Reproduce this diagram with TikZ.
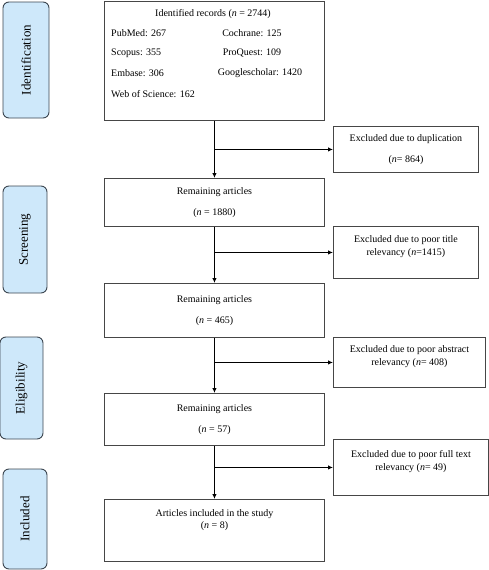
\documentclass[tikz,border=0pt]{standalone}
\usepackage{fontspec}
\setmainfont{Liberation Serif}
\usetikzlibrary{arrows.meta}
\definecolor{stageblue}{RGB}{206,232,250}
\definecolor{stageline}{RGB}{60,70,80}
\definecolor{boxline}{RGB}{70,70,70}

\begin{document}
\begin{tikzpicture}[x=1pt,y=-1pt,font=\fontsize{10}{13}\selectfont,
   stage/.style={draw=stageline,fill=stageblue,line width=0.9pt,rounded corners=6pt,
                 rotate=90,font=\fontsize{13}{15}\selectfont,inner sep=0pt},
   box/.style={draw=boxline,line width=0.9pt,anchor=north west,minimum width=220pt,
               align=center,inner sep=0pt},
   excl/.style={draw=boxline,line width=0.9pt,anchor=north west,align=center,inner sep=0pt},
   src/.style={inner sep=0pt},
   arr/.style={-{Latex[length=5pt,width=4.5pt]},line width=1.1pt}]
  \useasboundingbox (0,0) rectangle (489,570);
  % stages on the left
  \node[stage,minimum width=116pt,minimum height=46pt] (sid) at (26,60) {Identification};
  \node[stage,minimum width=107pt,minimum height=44pt] (sscr) at (25,239.5) {Screening};
  \node[stage,minimum width=102pt,minimum height=43pt] (selig) at (21.5,388) {Eligibility};
  \node[stage,minimum width=100pt,minimum height=44pt] (sincl) at (25,519) {Included};
  % identified records
  \node[box,minimum height=119pt] (ident) at (104,1) {};
  \node[src] (idhead) at (213,14) {Identified records (\textit{n} = 2744)};
  \node[src,anchor=west] (pubmed) at (111,33) {PubMed: 267};
  \node[src,anchor=west] (scopus) at (111,53) {Scopus: 355};
  \node[src,anchor=west] (embase) at (111,73) {Embase: 306};
  \node[src,anchor=west] (wos) at (111,94) {Web of Science: 162};
  \node[src] (cochrane) at (252,33) {Cochrane: 125};
  \node[src] (proquest) at (252,53) {ProQuest: 109};
  \node[src] (gscholar) at (260,73) {Googlescholar: 1420};
  % main column
  \node[box,minimum height=48pt] (rem1) at (104,178) {Remaining articles\\[8pt](\textit{n} = 1880)};
  \node[box,minimum height=54pt] (rem2) at (104,283) {Remaining articles\\[8pt](\textit{n} = 465)};
  \node[box,minimum height=52pt] (rem3) at (104,393) {Remaining articles\\[8pt](\textit{n} = 57)};
  \node[box,minimum height=62pt] (incl) at (104,499) {Articles included in the study\\[-1pt](\textit{n} = 8)\\[10pt]\mbox{}};
  % excluded records
  \node[excl,minimum width=145pt,minimum height=46pt] (dup) at (333,126) {Excluded due to duplication\\[8pt](\textit{n}= 864)};
  \node[excl,minimum width=145pt,minimum height=52pt] (title) at (333,226) {Excluded due to poor title\\relevancy (\textit{n}=1415)\\\mbox{}};
  \node[excl,minimum width=152pt,minimum height=50pt] (abst) at (333,337) {Excluded due to poor abstract\\relevancy (\textit{n}= 408)\\\mbox{}};
  \node[excl,minimum width=155pt,minimum height=56pt] (full) at (333,439) {Excluded due to poor full text\\relevancy (\textit{n}= 49)\\\mbox{}};
  % arrows
  \draw[arr] (ident.south) -- (rem1.north);
  \draw[arr] (rem1.south) -- (rem2.north);
  \draw[arr] (rem2.south) -- (rem3.north);
  \draw[arr] (rem3.south) -- (incl.north);
  \draw[arr] (ident.south |- dup.west) -- (dup.west);
  \draw[arr] (rem1.south |- title.west) -- (title.west);
  \draw[arr] (rem2.south |- abst.west) -- (abst.west);
  \draw[arr] (rem3.south |- full.west) -- (full.west);
\end{tikzpicture}
\end{document}
